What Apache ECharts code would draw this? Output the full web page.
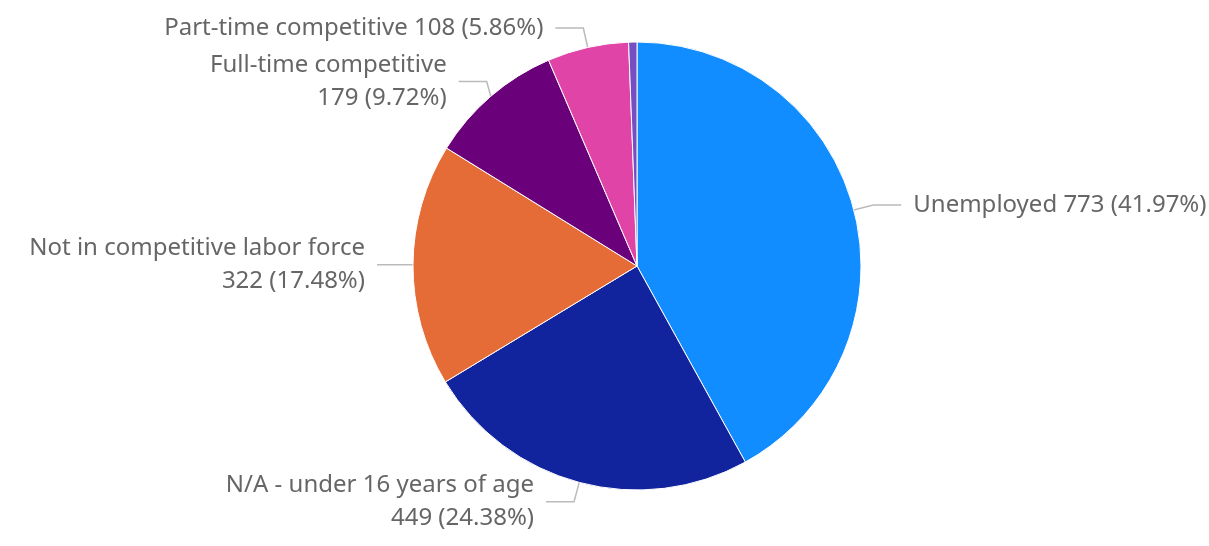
<!DOCTYPE html>
<html>
<head>
<meta charset="utf-8">
<script src="https://cdn.jsdelivr.net/npm/echarts@6/dist/echarts.min.js"></script>
<style>
  html, body { margin: 0; padding: 0; background: #fff; }
  #chart { width: 1209px; height: 546px; }
</style>
</head>
<body>
<div id="chart"></div>
<script>
// categories in clockwise order from 12 o'clock
const categories = [
  'Unemployed',
  'N/A - under 16 years of age',
  'Not in competitive labor force',
  'Full-time competitive',
  'Part-time competitive',
  'Other'
]
const counts = [773, 449, 322, 179, 108, 11]
const colors = ['#118DFF', '#12239E', '#E66C37', '#6B007B', '#E044A7', '#744EC2']
// labels that wrap onto a second line
const wrapped = ['N/A - under 16 years of age', 'Not in competitive labor force', 'Full-time competitive']

const total = counts.reduce((a, b) => a + b, 0)

const chart = echarts.init(document.getElementById('chart'))
chart.setOption({
  backgroundColor: '#ffffff',
  animation: false,
  series: [{
    type: 'pie',
    center: [637, 266],
    radius: 224,
    startAngle: 90,
    clockwise: true,
    avoidLabelOverlap: true,
    itemStyle: {
      borderColor: '#ffffff',
      borderWidth: 1
    },
    label: {
      show: true,
      color: '#666666',
      fontFamily: 'Noto Sans',
      fontSize: 24,
      lineHeight: 33,
      overflow: 'none',
      distanceToLabelLine: 12,
      formatter: p => {
        if (p.value / total < 0.01) return ''
        const pct = (p.value / total * 100).toFixed(2) + '%'
        const sep = wrapped.includes(p.name) ? '\n' : ' '
        return p.name + sep + p.value + ' (' + pct + ')'
      }
    },
    labelLine: {
      show: true,
      length: 20,
      length2: 28,
      lineStyle: { color: '#bbbbbb', width: 1.5 }
    },
    data: categories.map((name, i) => ({
      name: name,
      value: counts[i],
      itemStyle: { color: colors[i] },
      labelLine: { show: counts[i] / total >= 0.01 }
    }))
  }]
})
</script>
</body>
</html>
